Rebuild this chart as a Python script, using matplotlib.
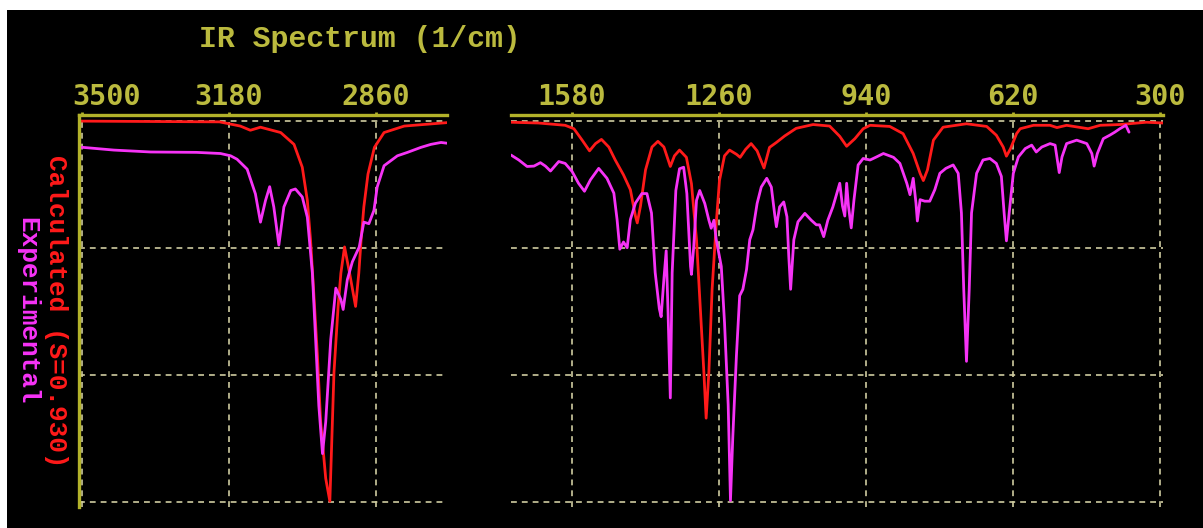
import matplotlib
matplotlib.use("Agg")
import matplotlib.pyplot as plt
from matplotlib.patches import Rectangle

# --- values (wavenumber in 1/cm, normalised absorbance 0..1) ---

# high-frequency window (C-H stretch region)
calc_left_wn = [3506, 3200, 3155, 3133, 3111, 3067, 3038, 3020, 3009, 3002,
                2995, 2987, 2980, 2969, 2960, 2951, 2942, 2936, 2928, 2917,
                2904, 2897, 2892, 2886, 2877, 2863, 2842, 2798, 2705]
calc_left_ab = [0.000, 0.002, 0.013, 0.024, 0.016, 0.030, 0.061, 0.121, 0.208, 0.312,
                0.451, 0.616, 0.789, 0.937, 0.997, 0.659, 0.486, 0.399, 0.330, 0.399,
                0.486, 0.399, 0.312, 0.225, 0.139, 0.069, 0.030, 0.013, 0.004]

exp_left_wn = [3506, 3430, 3350, 3250, 3198, 3176, 3162, 3140, 3122, 3111,
               3100, 3091, 3082, 3071, 3060, 3045, 3035, 3020, 3009, 2998,
               2991, 2984, 2976, 2969, 2958, 2947, 2936, 2931, 2922, 2911,
               2896, 2886, 2875, 2864, 2857, 2842, 2813, 2791, 2762, 2740,
               2718, 2705]
exp_left_ab = [0.068, 0.076, 0.081, 0.082, 0.085, 0.091, 0.100, 0.126, 0.191, 0.265,
               0.208, 0.172, 0.225, 0.325, 0.225, 0.182, 0.178, 0.199, 0.252, 0.399,
               0.572, 0.746, 0.872, 0.789, 0.572, 0.438, 0.468, 0.494, 0.416, 0.369,
               0.330, 0.265, 0.269, 0.234, 0.173, 0.117, 0.091, 0.082, 0.069, 0.061,
               0.056, 0.058]

# fingerprint window
calc_right_wn = [1713, 1653, 1595, 1576, 1558, 1542, 1529, 1516, 1500, 1486,
                 1468, 1453, 1442, 1438, 1431, 1420, 1406, 1393, 1380, 1366,
                 1357, 1346, 1331, 1320, 1309, 1301, 1293, 1288, 1282, 1275,
                 1266, 1259, 1248, 1237, 1222, 1214, 1202, 1190, 1177, 1162,
                 1150, 1135, 1117, 1092, 1055, 1019, 997, 982, 964, 946,
                 931, 888, 859, 837, 822, 815, 806, 793, 772, 721,
                 677, 656, 641, 634, 625, 612, 604, 575, 539, 524,
                 503, 456, 430, 387, 329, 293]
calc_right_ab = [0.003, 0.005, 0.011, 0.020, 0.050, 0.078, 0.059, 0.048, 0.068, 0.102,
                 0.141, 0.180, 0.249, 0.267, 0.223, 0.128, 0.068, 0.053, 0.068, 0.119,
                 0.091, 0.076, 0.095, 0.164, 0.311, 0.484, 0.657, 0.779, 0.657, 0.441,
                 0.268, 0.156, 0.091, 0.076, 0.087, 0.095, 0.074, 0.059, 0.078, 0.123,
                 0.069, 0.056, 0.039, 0.019, 0.009, 0.013, 0.040, 0.066, 0.046, 0.020,
                 0.011, 0.014, 0.033, 0.085, 0.137, 0.156, 0.128, 0.050, 0.016, 0.007,
                 0.014, 0.037, 0.068, 0.092, 0.072, 0.033, 0.020, 0.011, 0.011, 0.017,
                 0.011, 0.020, 0.011, 0.009, 0.003, 0.005]

exp_right_wn = [1713, 1696, 1678, 1663, 1649, 1638, 1627, 1609, 1595, 1580,
                1566, 1553, 1540, 1522, 1504, 1489, 1482, 1476, 1468, 1460,
                1453, 1442, 1428, 1417, 1407, 1399, 1390, 1386, 1380, 1375,
                1371, 1366, 1362, 1354, 1346, 1337, 1330, 1322, 1320, 1315,
                1309, 1302, 1291, 1282, 1277, 1271, 1266, 1255, 1248, 1240,
                1235, 1230, 1222, 1215, 1208, 1200, 1193, 1186, 1177, 1168,
                1156, 1146, 1139, 1135, 1128, 1119, 1112, 1108, 1104, 1097,
                1088, 1073, 1059, 1048, 1041, 1032, 1023, 1012, 997, 991,
                986, 982, 978, 972, 966, 957, 946, 931, 917, 902,
                880, 866, 851, 844, 837, 831, 828, 822, 812, 801,
                790, 779, 766, 750, 739, 732, 727, 721, 715, 710,
                699, 685, 670, 656, 645, 639, 634, 628, 619, 608,
                593, 579, 569, 557, 539, 528, 523, 519, 513, 503,
                481, 459, 448, 443, 436, 423, 409, 398, 387, 374,
                367]
exp_right_ab = [0.089, 0.102, 0.119, 0.118, 0.109, 0.118, 0.131, 0.106, 0.111, 0.132,
                0.163, 0.184, 0.154, 0.124, 0.150, 0.189, 0.258, 0.336, 0.317, 0.332,
                0.258, 0.215, 0.190, 0.190, 0.241, 0.397, 0.492, 0.513, 0.414, 0.340,
                0.500, 0.726, 0.398, 0.182, 0.125, 0.121, 0.190, 0.381, 0.402, 0.329,
                0.208, 0.182, 0.216, 0.260, 0.281, 0.260, 0.311, 0.381, 0.528, 0.744,
                0.995, 0.830, 0.614, 0.458, 0.441, 0.389, 0.311, 0.285, 0.216, 0.173,
                0.150, 0.173, 0.242, 0.277, 0.225, 0.212, 0.251, 0.355, 0.441, 0.311,
                0.264, 0.242, 0.260, 0.272, 0.272, 0.303, 0.260, 0.225, 0.163, 0.223,
                0.249, 0.163, 0.223, 0.280, 0.206, 0.115, 0.098, 0.102, 0.094, 0.085,
                0.095, 0.111, 0.163, 0.193, 0.150, 0.215, 0.262, 0.206, 0.210, 0.210,
                0.180, 0.137, 0.124, 0.115, 0.137, 0.241, 0.440, 0.630, 0.440, 0.241,
                0.137, 0.102, 0.098, 0.111, 0.145, 0.241, 0.314, 0.241, 0.137, 0.094,
                0.072, 0.063, 0.081, 0.068, 0.059, 0.063, 0.102, 0.135, 0.094, 0.059,
                0.050, 0.059, 0.085, 0.118, 0.085, 0.046, 0.037, 0.029, 0.020, 0.011,
                0.029]

left_ticks = [3500, 3180, 2860]
right_ticks = [1580, 1260, 940, 620, 300]
grid_levels = [0.0, 1 / 3, 2 / 3, 1.0]

title = "IR Spectrum (1/cm)"
calc_label = "Calculated (S=0.930)"
exp_label = "Experimental"

OLIVE = "#b3b22a"
TEXT_OLIVE = "#bbba3e"
GRID = "#cfcca0"
RED = "#ff1a1a"
MAGENTA = "#f633f6"
MONO = "Liberation Mono"
TICK_FONT = "DejaVu Sans Mono"
TICK_SIZE = 20.5


def style_panel(ax, xlim, ticks, labels, show_left):
    ax.set_facecolor("black")
    ax.set_xlim(*xlim)
    ax.set_ylim(1.012, -0.016)
    ax.xaxis.tick_top()
    ax.set_xticks(ticks, labels=labels)
    ax.set_yticks(grid_levels)
    ax.tick_params(axis="y", length=0, labelleft=False)
    ax.tick_params(axis="x", direction="out", length=2.5, width=2, color=OLIVE,
                   labelcolor=TEXT_OLIVE, labelsize=TICK_SIZE, pad=0.5)
    for lbl in ax.get_xticklabels():
        lbl.set_family(TICK_FONT)
        lbl.set_weight("bold")
    for side in ["bottom", "right"]:
        ax.spines[side].set_visible(False)
    ax.spines["top"].set_color(OLIVE)
    ax.spines["top"].set_linewidth(2.4)
    if show_left:
        ax.spines["left"].set_color(OLIVE)
        ax.spines["left"].set_linewidth(2.4)
    else:
        ax.spines["left"].set_visible(False)
    ax.grid(True, color=GRID, linestyle=(0, (3.5, 3)), linewidth=1.2)
    ax.set_axisbelow(True)


fig = plt.figure(figsize=(12.03, 5.28), dpi=100, facecolor="white")
fig.add_artist(Rectangle((7 / 1203, 0), 1, 518 / 528, transform=fig.transFigure,
                         facecolor="black", edgecolor="none", zorder=-5))

ax_l = fig.add_axes([79 / 1203, 21 / 528, 368 / 1203, 392 / 528])
ax_r = fig.add_axes([511 / 1203, 21 / 528, 652 / 1203, 392 / 528])

style_panel(ax_l, (3506, 2705), left_ticks, ["", "3180", "2860"], True)
style_panel(ax_r, (1713, 293), right_ticks, [str(t) for t in right_ticks], False)

# first label sits flush with the panel edge instead of centred on its tick
ax_l.annotate(str(left_ticks[0]), xy=(left_ticks[0], 1.0),
              xycoords=("data", "axes fraction"), xytext=(-6.5, 3.0),
              textcoords="offset points", ha="left", va="bottom",
              color=TEXT_OLIVE, fontsize=TICK_SIZE, family=TICK_FONT, weight="bold")

line_kw = dict(lw=2.0, solid_joinstyle="round", solid_capstyle="round")
ax_l.plot(calc_left_wn, calc_left_ab, color=RED, **line_kw)
ax_l.plot(exp_left_wn, exp_left_ab, color=MAGENTA, **line_kw)
ax_r.plot(calc_right_wn, calc_right_ab, color=RED, **line_kw)
ax_r.plot(exp_right_wn, exp_right_ab, color=MAGENTA, **line_kw)

fig.text(360 / 1203, 1 - 39 / 528, title, color=TEXT_OLIVE, fontsize=21.5,
         family=MONO, weight="bold", ha="center", va="center")
fig.text(56 / 1203, 1 - 311 / 528, calc_label, color=RED, fontsize=18.8,
         family=MONO, weight="bold", rotation=-90, ha="center", va="center")
fig.text(27 / 1203, 1 - 311 / 528, exp_label, color=MAGENTA, fontsize=18.8,
         family=MONO, weight="bold", rotation=-90, ha="center", va="center")

fig.savefig("out.png", dpi=100, facecolor="white")
